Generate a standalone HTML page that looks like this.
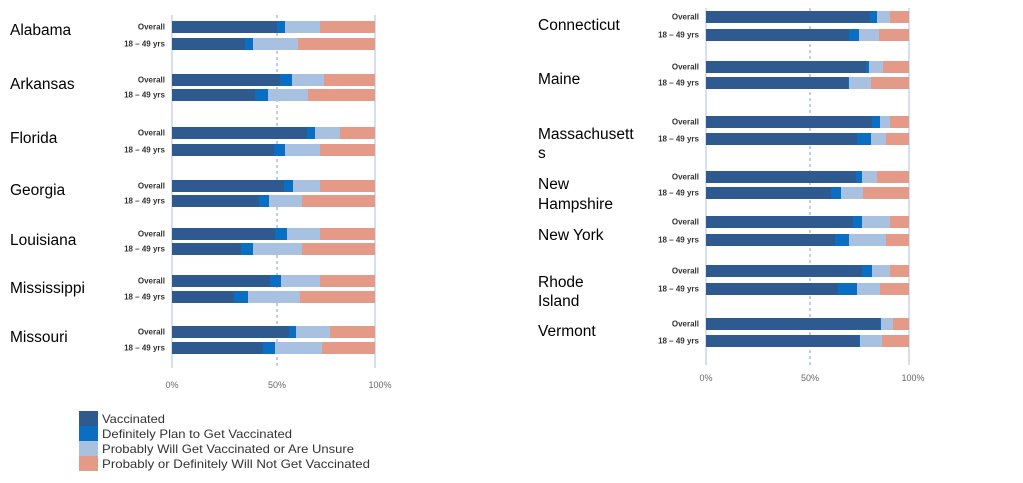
<!DOCTYPE html>
<html><head><meta charset="utf-8"><style>
body{margin:0;background:#fff;}
svg{display:block;font-family:"Liberation Sans",sans-serif;}
.st{font-size:15.5px;fill:#000;}
.lb{font-size:8px;font-weight:bold;fill:#333;}
.tk{font-size:9px;fill:#666;}
.lg{font-size:12px;fill:#333;}
</style></head><body>
<svg id="s" width="1023" height="483" viewBox="0 0 1023 483" xmlns="http://www.w3.org/2000/svg">
<line x1="172" y1="15" x2="172" y2="368" stroke="#a9bde8" stroke-width="1"/>
<line x1="375" y1="15" x2="375" y2="368" stroke="#a9bde8" stroke-width="1"/>
<line x1="277" y1="15" x2="277" y2="368" stroke="#7f9fcf" stroke-width="1" stroke-dasharray="3,3"/>
<line x1="706" y1="8" x2="706" y2="365" stroke="#a9bde8" stroke-width="1"/>
<line x1="909" y1="8" x2="909" y2="365" stroke="#a9bde8" stroke-width="1"/>
<line x1="810" y1="8" x2="810" y2="365" stroke="#7f9fcf" stroke-width="1" stroke-dasharray="3,3"/>
<g id="bars"></g>
<text class="tk" x="172" y="388" text-anchor="middle">0%</text>
<text class="tk" x="277" y="388" text-anchor="middle">50%</text>
<text class="tk" x="380" y="388" text-anchor="middle">100%</text>
<text class="tk" x="706" y="381" text-anchor="middle">0%</text>
<text class="tk" x="810" y="381" text-anchor="middle">50%</text>
<text class="tk" x="913" y="381" text-anchor="middle">100%</text>
<text class="st" x="10" y="35">Alabama</text>
<text class="st" x="10" y="89">Arkansas</text>
<text class="st" x="10" y="143">Florida</text>
<text class="st" x="10" y="195">Georgia</text>
<text class="st" x="10" y="245">Louisiana</text>
<text class="st" x="10" y="293">Mississippi</text>
<text class="st" x="10" y="342">Missouri</text>
<text class="st" x="538" y="30">Connecticut</text>
<text class="st" x="538" y="84">Maine</text>
<text class="st" x="538" y="139">Massachusett</text>
<text class="st" x="538" y="158">s</text>
<text class="st" x="538" y="189">New</text>
<text class="st" x="538" y="209">Hampshire</text>
<text class="st" x="538" y="240">New York</text>
<text class="st" x="538" y="287">Rhode</text>
<text class="st" x="538" y="306">Island</text>
<text class="st" x="538" y="336">Vermont</text>
<rect x="79" y="411" width="19" height="15" fill="#2f5a8f"/>
<rect x="79" y="426" width="19" height="15" fill="#0a6fc2"/>
<rect x="79" y="441" width="19" height="15" fill="#a9c1e0"/>
<rect x="79" y="456" width="19" height="15" fill="#e59a88"/>
<text class="lg" x="102" y="423" textLength="63" lengthAdjust="spacingAndGlyphs">Vaccinated</text>
<text class="lg" x="102" y="438" textLength="190" lengthAdjust="spacingAndGlyphs">Definitely Plan to Get Vaccinated</text>
<text class="lg" x="102" y="453" textLength="252" lengthAdjust="spacingAndGlyphs">Probably Will Get Vaccinated or Are Unsure</text>
<text class="lg" x="102" y="468" textLength="268" lengthAdjust="spacingAndGlyphs">Probably or Definitely Will Not Get Vaccinated</text>
</svg>
<script>
var C=["#2f5a8f","#0a6fc2","#a9c1e0","#e59a88"];
var L=[[21,277,285,320],[38,245,253,298],[74,280,292,324],[89,255,268,308],[127,307,315,340],[144,274,285,320],[180,284,293,320],[195,259,269,302],[228,275,287,320],[243,241,253,302],[275,270,281,320],[291,234,248,300],[326,289,296,330],[342,263,275,322]];
var R=[[11,870,877,890],[29,849,859,879],[61,866,869,883],[77,848,849,871],[116,872,880,890],[133,857,871,886],[171,856,862,877],[187,831,841,863],[216,853,862,890],[234,835,849,886],[265,862,872,890],[283,838,857,880],[318,880,881,893],[335,859,860,882]];
var g=document.getElementById("bars"),h="";
function draw(a,x0,x1,lx){a.forEach(function(b,i){var xs=[x0,b[1],b[2],b[3],x1];for(var k=0;k<4;k++)h+='<rect x="'+xs[k]+'" y="'+b[0]+'" width="'+(xs[k+1]-xs[k])+'" height="12" fill="'+C[k]+'"/>';
h+='<text class="lb" x="'+lx+'" y="'+(b[0]+8.5)+'" text-anchor="end">'+(i%2?"18 – 49 yrs":"Overall")+'</text>';});}
draw(L,172,375,165);draw(R,706,909,699);
g.innerHTML=h;
</script>
</body></html>
